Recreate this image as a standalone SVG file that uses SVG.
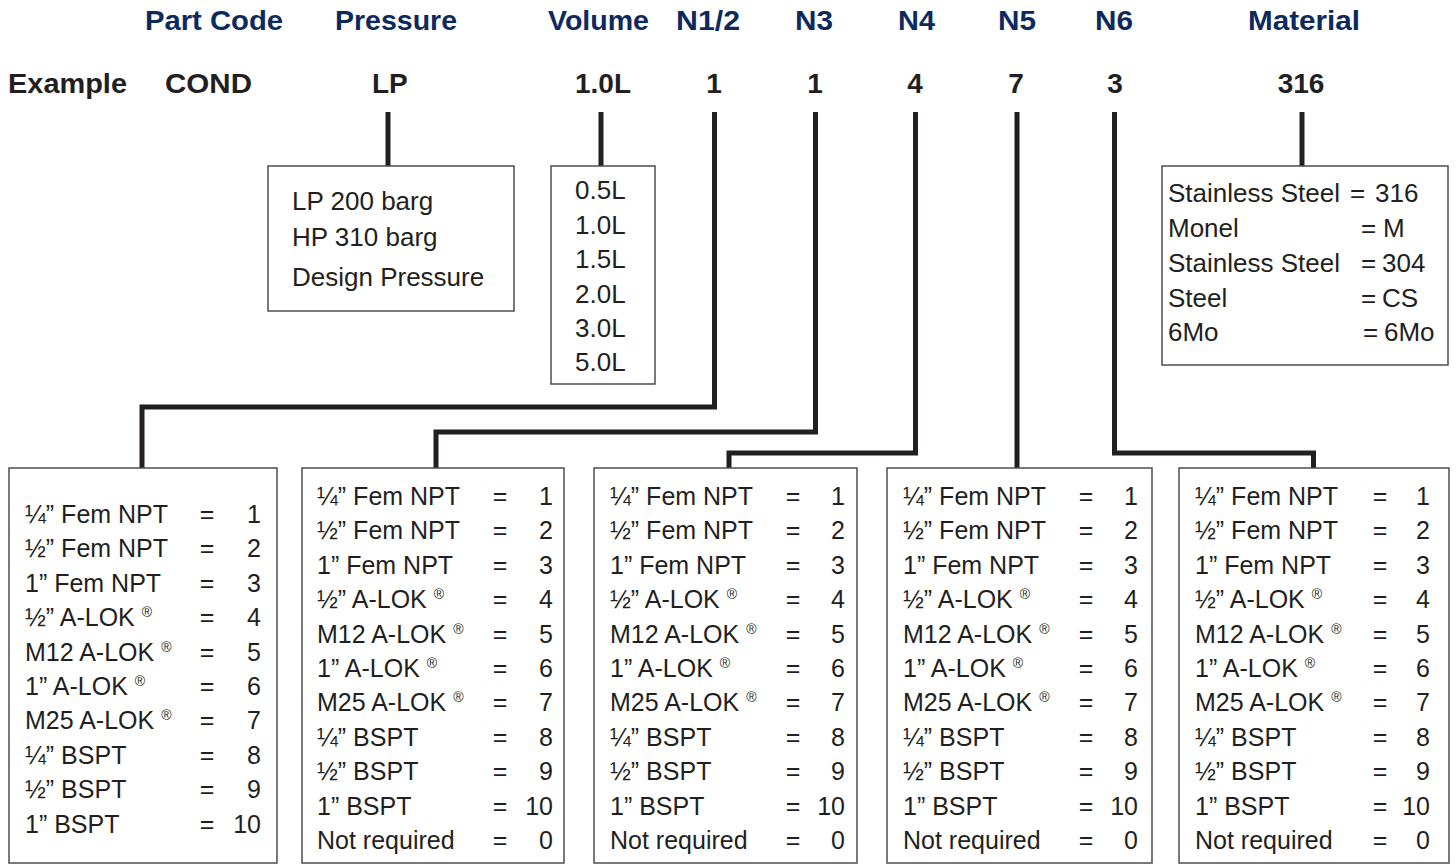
<svg xmlns="http://www.w3.org/2000/svg" width="1456" height="866" viewBox="0 0 1456 866">
<style>
.hdr{font-family:"Liberation Sans",Arial,sans-serif;font-weight:bold;font-size:28px;fill:#0d2a5e}
.ex{font-family:"Liberation Sans",Arial,sans-serif;font-weight:bold;font-size:28px;fill:#231f20}
.t{font-family:"Liberation Sans",Arial,sans-serif;font-size:25px;fill:#231f20}
.tt{font-family:"Liberation Sans",Arial,sans-serif;font-size:26px;fill:#231f20}
.eq{text-anchor:middle}
.num{text-anchor:end}
.box{fill:#fff;stroke:#4d4d4d;stroke-width:1.5}
.con{fill:none;stroke:#231f20;stroke-width:5;stroke-linejoin:miter}
.r{font-size:14px}
</style>
<rect width="1456" height="866" fill="#fff"/>

<g id="headers">
<text class="hdr" x="145" y="30" textLength="138" lengthAdjust="spacingAndGlyphs">Part Code</text>
<text class="hdr" x="335" y="30" textLength="122" lengthAdjust="spacingAndGlyphs">Pressure</text>
<text class="hdr" x="548" y="30" textLength="101" lengthAdjust="spacingAndGlyphs">Volume</text>
<text class="hdr" x="676" y="30" textLength="64" lengthAdjust="spacingAndGlyphs">N1/2</text>
<text class="hdr" x="795" y="30" textLength="38" lengthAdjust="spacingAndGlyphs">N3</text>
<text class="hdr" x="898" y="30" textLength="37" lengthAdjust="spacingAndGlyphs">N4</text>
<text class="hdr" x="998" y="30" textLength="38" lengthAdjust="spacingAndGlyphs">N5</text>
<text class="hdr" x="1095" y="30" textLength="38" lengthAdjust="spacingAndGlyphs">N6</text>
<text class="hdr" x="1248" y="30" textLength="112" lengthAdjust="spacingAndGlyphs">Material</text>
</g>

<g id="example">
<text class="ex" x="8" y="93" textLength="119" lengthAdjust="spacingAndGlyphs">Example</text>
<text class="ex" x="165" y="93" textLength="87" lengthAdjust="spacingAndGlyphs">COND</text>
<text class="ex" x="372" y="93">LP</text>
<text class="ex" x="575" y="93" textLength="56" lengthAdjust="spacingAndGlyphs">1.0L</text>
<text class="ex" x="714" y="93" text-anchor="middle">1</text>
<text class="ex" x="815" y="93" text-anchor="middle">1</text>
<text class="ex" x="915" y="93" text-anchor="middle">4</text>
<text class="ex" x="1016" y="93" text-anchor="middle">7</text>
<text class="ex" x="1115" y="93" text-anchor="middle">3</text>
<text class="ex" x="1301" y="93" text-anchor="middle">316</text>
</g>

<g id="connectors">
<path class="con" d="M388 112 V166"/>
<path class="con" d="M601 112 V166"/>
<path class="con" d="M1302 112 V166"/>
<path class="con" d="M714.5 112 V407 H142 V468"/>
<path class="con" d="M815.5 112 V432 H436 V468"/>
<path class="con" d="M915.5 112 V453 H729 V468"/>
<path class="con" d="M1017 112 V468"/>
<path class="con" d="M1114.5 112 V453 H1313.5 V468"/>
</g>

<g id="pressure">
<rect class="box" x="268" y="166" width="246" height="145"/>
<text class="tt" x="292" y="210">LP 200 barg</text>
<text class="tt" x="292" y="246">HP 310 barg</text>
<text class="tt" x="292" y="286">Design Pressure</text>
</g>

<g id="volume">
<rect class="box" x="551" y="166" width="104" height="218"/>
<text class="tt" x="575" y="199">0.5L</text>
<text class="tt" x="575" y="234">1.0L</text>
<text class="tt" x="575" y="268">1.5L</text>
<text class="tt" x="575" y="303">2.0L</text>
<text class="tt" x="575" y="337">3.0L</text>
<text class="tt" x="575" y="371">5.0L</text>
</g>

<g id="material">
<rect class="box" x="1162" y="166" width="286" height="199"/>
<text class="tt" x="1168" y="202">Stainless Steel</text><text class="tt" x="1350" y="202">=</text><text class="tt" x="1375" y="202">316</text>
<text class="tt" x="1168" y="237">Monel</text><text class="tt" x="1361" y="237">=</text><text class="tt" x="1383" y="237">M</text>
<text class="tt" x="1168" y="272">Stainless Steel</text><text class="tt" x="1361" y="272">=</text><text class="tt" x="1382" y="272">304</text>
<text class="tt" x="1168" y="307">Steel</text><text class="tt" x="1361" y="307">=</text><text class="tt" x="1382" y="307">CS</text>
<text class="tt" x="1168" y="341">6Mo</text><text class="tt" x="1363" y="341">=</text><text class="tt" x="1384" y="341">6Mo</text>
</g>

<g id="n12">
<rect class="box" x="9" y="468" width="268" height="395"/>
<text class="t" x="25" y="523">¼” Fem NPT</text><text class="t eq" x="207" y="523">=</text><text class="t num" x="261" y="523">1</text>
<text class="t" x="25" y="557.4">½” Fem NPT</text><text class="t eq" x="207" y="557.4">=</text><text class="t num" x="261" y="557.4">2</text>
<text class="t" x="25" y="591.8">1” Fem NPT</text><text class="t eq" x="207" y="591.8">=</text><text class="t num" x="261" y="591.8">3</text>
<text class="t" x="25" y="626.2">½” A-LOK <tspan class="r" dy="-9">®</tspan></text><text class="t eq" x="207" y="626.2">=</text><text class="t num" x="261" y="626.2">4</text>
<text class="t" x="25" y="660.6">M12 A-LOK <tspan class="r" dy="-9">®</tspan></text><text class="t eq" x="207" y="660.6">=</text><text class="t num" x="261" y="660.6">5</text>
<text class="t" x="25" y="695">1” A-LOK <tspan class="r" dy="-9">®</tspan></text><text class="t eq" x="207" y="695">=</text><text class="t num" x="261" y="695">6</text>
<text class="t" x="25" y="729.4">M25 A-LOK <tspan class="r" dy="-9">®</tspan></text><text class="t eq" x="207" y="729.4">=</text><text class="t num" x="261" y="729.4">7</text>
<text class="t" x="25" y="763.8">¼” BSPT</text><text class="t eq" x="207" y="763.8">=</text><text class="t num" x="261" y="763.8">8</text>
<text class="t" x="25" y="798.2">½” BSPT</text><text class="t eq" x="207" y="798.2">=</text><text class="t num" x="261" y="798.2">9</text>
<text class="t" x="25" y="832.6">1” BSPT</text><text class="t eq" x="207" y="832.6">=</text><text class="t num" x="261" y="832.6">10</text>
</g>

<g id="n3">
<rect class="box" x="302" y="468" width="262" height="395"/>
<text class="t" x="317" y="505">¼” Fem NPT</text><text class="t eq" x="500" y="505">=</text><text class="t num" x="553" y="505">1</text>
<text class="t" x="317" y="539.4">½” Fem NPT</text><text class="t eq" x="500" y="539.4">=</text><text class="t num" x="553" y="539.4">2</text>
<text class="t" x="317" y="573.8">1” Fem NPT</text><text class="t eq" x="500" y="573.8">=</text><text class="t num" x="553" y="573.8">3</text>
<text class="t" x="317" y="608.2">½” A-LOK <tspan class="r" dy="-9">®</tspan></text><text class="t eq" x="500" y="608.2">=</text><text class="t num" x="553" y="608.2">4</text>
<text class="t" x="317" y="642.6">M12 A-LOK <tspan class="r" dy="-9">®</tspan></text><text class="t eq" x="500" y="642.6">=</text><text class="t num" x="553" y="642.6">5</text>
<text class="t" x="317" y="677">1” A-LOK <tspan class="r" dy="-9">®</tspan></text><text class="t eq" x="500" y="677">=</text><text class="t num" x="553" y="677">6</text>
<text class="t" x="317" y="711.4">M25 A-LOK <tspan class="r" dy="-9">®</tspan></text><text class="t eq" x="500" y="711.4">=</text><text class="t num" x="553" y="711.4">7</text>
<text class="t" x="317" y="745.8">¼” BSPT</text><text class="t eq" x="500" y="745.8">=</text><text class="t num" x="553" y="745.8">8</text>
<text class="t" x="317" y="780.2">½” BSPT</text><text class="t eq" x="500" y="780.2">=</text><text class="t num" x="553" y="780.2">9</text>
<text class="t" x="317" y="814.6">1” BSPT</text><text class="t eq" x="500" y="814.6">=</text><text class="t num" x="553" y="814.6">10</text>
<text class="t" x="317" y="849">Not required</text><text class="t eq" x="500" y="849">=</text><text class="t num" x="553" y="849">0</text>
</g>

<g id="n4">
<rect class="box" x="594" y="468" width="263" height="395"/>
<text class="t" x="610" y="505">¼” Fem NPT</text><text class="t eq" x="793" y="505">=</text><text class="t num" x="845" y="505">1</text>
<text class="t" x="610" y="539.4">½” Fem NPT</text><text class="t eq" x="793" y="539.4">=</text><text class="t num" x="845" y="539.4">2</text>
<text class="t" x="610" y="573.8">1” Fem NPT</text><text class="t eq" x="793" y="573.8">=</text><text class="t num" x="845" y="573.8">3</text>
<text class="t" x="610" y="608.2">½” A-LOK <tspan class="r" dy="-9">®</tspan></text><text class="t eq" x="793" y="608.2">=</text><text class="t num" x="845" y="608.2">4</text>
<text class="t" x="610" y="642.6">M12 A-LOK <tspan class="r" dy="-9">®</tspan></text><text class="t eq" x="793" y="642.6">=</text><text class="t num" x="845" y="642.6">5</text>
<text class="t" x="610" y="677">1” A-LOK <tspan class="r" dy="-9">®</tspan></text><text class="t eq" x="793" y="677">=</text><text class="t num" x="845" y="677">6</text>
<text class="t" x="610" y="711.4">M25 A-LOK <tspan class="r" dy="-9">®</tspan></text><text class="t eq" x="793" y="711.4">=</text><text class="t num" x="845" y="711.4">7</text>
<text class="t" x="610" y="745.8">¼” BSPT</text><text class="t eq" x="793" y="745.8">=</text><text class="t num" x="845" y="745.8">8</text>
<text class="t" x="610" y="780.2">½” BSPT</text><text class="t eq" x="793" y="780.2">=</text><text class="t num" x="845" y="780.2">9</text>
<text class="t" x="610" y="814.6">1” BSPT</text><text class="t eq" x="793" y="814.6">=</text><text class="t num" x="845" y="814.6">10</text>
<text class="t" x="610" y="849">Not required</text><text class="t eq" x="793" y="849">=</text><text class="t num" x="845" y="849">0</text>
</g>

<g id="n5">
<rect class="box" x="887" y="468" width="265" height="395"/>
<text class="t" x="903" y="505">¼” Fem NPT</text><text class="t eq" x="1086" y="505">=</text><text class="t num" x="1138" y="505">1</text>
<text class="t" x="903" y="539.4">½” Fem NPT</text><text class="t eq" x="1086" y="539.4">=</text><text class="t num" x="1138" y="539.4">2</text>
<text class="t" x="903" y="573.8">1” Fem NPT</text><text class="t eq" x="1086" y="573.8">=</text><text class="t num" x="1138" y="573.8">3</text>
<text class="t" x="903" y="608.2">½” A-LOK <tspan class="r" dy="-9">®</tspan></text><text class="t eq" x="1086" y="608.2">=</text><text class="t num" x="1138" y="608.2">4</text>
<text class="t" x="903" y="642.6">M12 A-LOK <tspan class="r" dy="-9">®</tspan></text><text class="t eq" x="1086" y="642.6">=</text><text class="t num" x="1138" y="642.6">5</text>
<text class="t" x="903" y="677">1” A-LOK <tspan class="r" dy="-9">®</tspan></text><text class="t eq" x="1086" y="677">=</text><text class="t num" x="1138" y="677">6</text>
<text class="t" x="903" y="711.4">M25 A-LOK <tspan class="r" dy="-9">®</tspan></text><text class="t eq" x="1086" y="711.4">=</text><text class="t num" x="1138" y="711.4">7</text>
<text class="t" x="903" y="745.8">¼” BSPT</text><text class="t eq" x="1086" y="745.8">=</text><text class="t num" x="1138" y="745.8">8</text>
<text class="t" x="903" y="780.2">½” BSPT</text><text class="t eq" x="1086" y="780.2">=</text><text class="t num" x="1138" y="780.2">9</text>
<text class="t" x="903" y="814.6">1” BSPT</text><text class="t eq" x="1086" y="814.6">=</text><text class="t num" x="1138" y="814.6">10</text>
<text class="t" x="903" y="849">Not required</text><text class="t eq" x="1086" y="849">=</text><text class="t num" x="1138" y="849">0</text>
</g>

<g id="n6">
<rect class="box" x="1179" y="468" width="270" height="395"/>
<text class="t" x="1195" y="505">¼” Fem NPT</text><text class="t eq" x="1380" y="505">=</text><text class="t num" x="1430" y="505">1</text>
<text class="t" x="1195" y="539.4">½” Fem NPT</text><text class="t eq" x="1380" y="539.4">=</text><text class="t num" x="1430" y="539.4">2</text>
<text class="t" x="1195" y="573.8">1” Fem NPT</text><text class="t eq" x="1380" y="573.8">=</text><text class="t num" x="1430" y="573.8">3</text>
<text class="t" x="1195" y="608.2">½” A-LOK <tspan class="r" dy="-9">®</tspan></text><text class="t eq" x="1380" y="608.2">=</text><text class="t num" x="1430" y="608.2">4</text>
<text class="t" x="1195" y="642.6">M12 A-LOK <tspan class="r" dy="-9">®</tspan></text><text class="t eq" x="1380" y="642.6">=</text><text class="t num" x="1430" y="642.6">5</text>
<text class="t" x="1195" y="677">1” A-LOK <tspan class="r" dy="-9">®</tspan></text><text class="t eq" x="1380" y="677">=</text><text class="t num" x="1430" y="677">6</text>
<text class="t" x="1195" y="711.4">M25 A-LOK <tspan class="r" dy="-9">®</tspan></text><text class="t eq" x="1380" y="711.4">=</text><text class="t num" x="1430" y="711.4">7</text>
<text class="t" x="1195" y="745.8">¼” BSPT</text><text class="t eq" x="1380" y="745.8">=</text><text class="t num" x="1430" y="745.8">8</text>
<text class="t" x="1195" y="780.2">½” BSPT</text><text class="t eq" x="1380" y="780.2">=</text><text class="t num" x="1430" y="780.2">9</text>
<text class="t" x="1195" y="814.6">1” BSPT</text><text class="t eq" x="1380" y="814.6">=</text><text class="t num" x="1430" y="814.6">10</text>
<text class="t" x="1195" y="849">Not required</text><text class="t eq" x="1380" y="849">=</text><text class="t num" x="1430" y="849">0</text>
</g>
</svg>
